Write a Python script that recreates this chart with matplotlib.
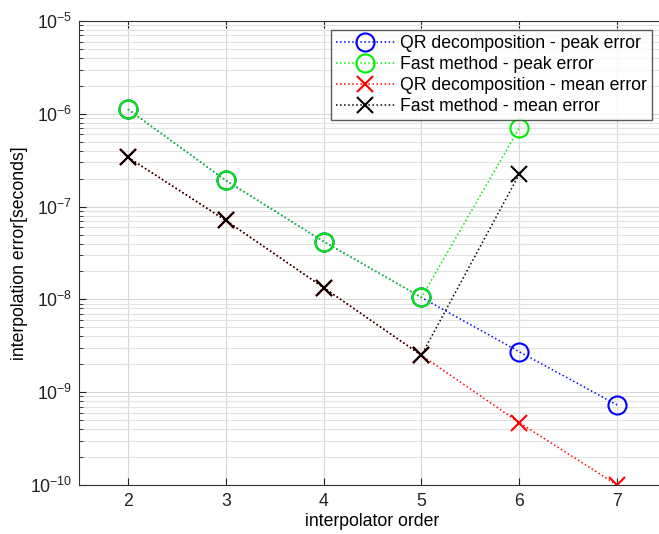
import matplotlib
matplotlib.use("Agg")
import matplotlib.pyplot as plt
from matplotlib.ticker import LogLocator, FixedLocator

plt.rcParams['font.family'] = ['Liberation Sans', 'DejaVu Sans']
plt.rcParams['mathtext.fontset'] = 'custom'
plt.rcParams['mathtext.rm'] = 'Liberation Sans'

orders = [2, 3, 4, 5, 6, 7]
fast_orders = [2, 3, 4, 5, 6]
qr_peak = [1.12e-6, 1.92e-7, 4.2e-8, 1.05e-8, 2.73e-9, 7.3e-10]
fast_peak = [1.12e-6, 1.92e-7, 4.2e-8, 1.05e-8, 7.0e-7]
qr_mean = [3.4e-7, 7.1e-8, 1.34e-8, 2.5e-9, 4.7e-10, 1.0e-10]
fast_mean = [3.4e-7, 7.1e-8, 1.34e-8, 2.5e-9, 2.23e-7]
labels = ["QR decomposition - peak error", "Fast method - peak error",
          "QR decomposition - mean error", "Fast method - mean error"]

fig = plt.figure(figsize=(6.59, 5.34), dpi=100)
ax = fig.add_axes([79/659, 1-485/534, (666-79)/659, (485-21)/534])

fs = 12.7
ax.semilogy(orders, qr_peak, color='blue', linestyle=':', lw=1.1, marker='o',
            ms=13, mfc='none', mew=1.5, label=labels[0])
ax.semilogy(fast_orders, fast_peak, color='#00ee00', linestyle=':', lw=1.1, marker='o',
            ms=13, mfc='none', mew=1.5, label=labels[1])
ax.semilogy(orders, qr_mean, color='red', linestyle=':', lw=1.1, marker='x',
            ms=11, mew=1.5, label=labels[2])
ax.semilogy(fast_orders, fast_mean, color='black', linestyle=':', lw=1.1, marker='x',
            ms=11, mew=1.5, label=labels[3])

ax.set_xlim(1.5, 7.5)
ax.set_ylim(1e-10, 1e-5)
ax.xaxis.set_major_locator(FixedLocator(orders))
ax.yaxis.set_major_locator(LogLocator(base=10, numticks=20))
ax.yaxis.set_minor_locator(LogLocator(base=10, subs=range(2, 10), numticks=20))

ax.grid(True, which='major', color='#d8d8d8', lw=0.8)
ax.grid(True, which='minor', axis='y', color='#e2e2e2', lw=0.8)
ax.set_axisbelow(True)
ax.tick_params(which='both', direction='in', labelsize=fs, colors='#222222',
               top=True, right=False)
ax.tick_params(which='major', length=5)
ax.tick_params(which='minor', length=3)
ax.tick_params(axis='x', pad=6)
ax.tick_params(axis='y', pad=5)
for s in ax.spines.values():
    s.set_color('#333333')
ax.spines['right'].set_visible(False)

ax.set_xlabel('interpolator order', fontsize=fs, labelpad=2)
ax.set_ylabel('interpolation error[seconds]', fontsize=fs)
ax.yaxis.set_label_coords(-0.087, 0.5)

leg = ax.legend(loc='upper right', bbox_to_anchor=((652-79)/(666-79), 1 - 9/464),
                fontsize=fs, frameon=True, fancybox=False, edgecolor='#333333',
                handlelength=3.3, handletextpad=0.3, borderpad=0.3, labelspacing=0.22,
                borderaxespad=0)
leg.get_frame().set_linewidth(1.0)

fig.savefig('out.png', dpi=100)
